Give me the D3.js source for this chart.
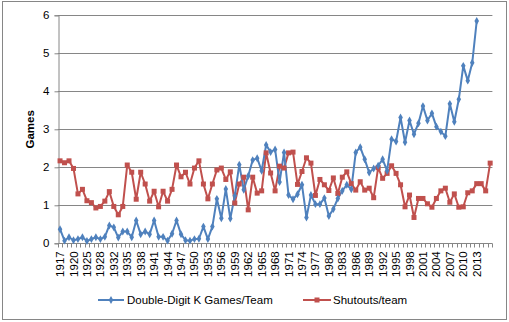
<!DOCTYPE html>
<html><head><meta charset="utf-8">
<script src="https://cdn.jsdelivr.net/npm/d3@7"></script>
<style>
body{margin:0;background:#fff;}
svg{display:block;font-family:"Liberation Sans",Arial,sans-serif;}
</style></head>
<body><svg id="c" width="509" height="322"></svg>
<script>
const years = [1917,1918,1919,1920,1922,1924,1925,1926,1927,1928,1930,1931].concat(d3.range(1932,2017));
const kGames = [0.37,0.07,0.16,0.08,0.11,0.16,0.06,0.11,0.16,0.11,0.17,0.47,0.42,0.15,0.31,0.31,0.16,0.60,0.24,0.31,
0.24,0.60,0.17,0.17,0.07,0.25,0.60,0.24,0.08,0.07,0.11,0.12,0.44,0.11,0.44,1.17,0.66,1.43,0.65,1.25,
2.07,1.41,1.77,2.19,2.24,1.91,2.59,2.40,2.47,1.61,2.39,1.27,1.16,1.29,1.54,0.68,1.27,1.03,1.03,1.19,
0.72,0.90,1.18,1.38,1.54,1.42,2.39,2.53,2.21,1.86,1.97,2.04,2.21,1.91,2.74,2.68,3.31,2.66,3.23,2.87,
3.16,3.61,3.23,3.42,3.07,2.94,2.82,3.67,3.20,3.79,4.67,4.28,4.75,5.85];
const shutouts = [2.17,2.12,2.17,1.97,1.30,1.42,1.12,1.07,0.93,0.97,1.11,1.36,0.97,0.75,0.97,2.06,1.87,1.16,1.87,1.56,
1.11,1.37,0.96,1.37,1.11,1.42,2.06,1.75,1.87,1.56,1.98,2.17,1.56,1.17,1.56,1.93,1.98,1.68,1.88,1.06,
1.56,1.74,0.88,1.74,1.32,1.38,2.38,1.85,1.38,2.03,1.98,2.38,2.40,1.55,1.89,2.25,2.11,1.26,1.68,1.54,
1.39,1.72,1.31,1.74,1.88,1.57,1.40,1.62,1.40,1.45,1.20,1.99,1.71,1.84,2.04,1.84,1.54,0.96,1.27,0.68,
1.18,1.18,1.04,0.95,1.18,1.38,1.45,1.08,1.30,0.95,0.96,1.33,1.38,1.57,1.57,1.38,2.11];
const yTicks = [0,1,2,3,4,5,6];
const xTickLabels = [1917,1920,1925,1928,1932,1935,1938,1941,1944,1947,1950,1953,1956,1959,1962,1965,1968,1971,1974,1977,1980,1983,1986,1989,1992,1995,1998,2001,2004,2007,2010,2013];
const seriesNames = ["Double-Digit K Games/Team","Shutouts/team"];

const svg = d3.select("#c");
const L = 57.8, R = 492.4, T = 15.3, B = 243.3;
const gridCol = "#868686";
const blue = "#4F81BD", red = "#C0504D";

// outer border
svg.append("rect").attr("x",2.5).attr("y",1.5).attr("width",504).attr("height",318)
  .attr("fill","#fff").attr("stroke",gridCol).attr("stroke-width",1);

const x = d3.scaleBand().domain(years).range([L,R]).padding(0);
const cx = d => x(d) + x.bandwidth()/2;
const y = d3.scaleLinear().domain([0,6]).range([B,T]);

// gridlines
svg.append("g").selectAll("line").data(yTicks.filter(d=>d>0)).join("line")
  .attr("x1",L).attr("x2",R).attr("y1",d=>Math.round(y(d))+0.5).attr("y2",d=>Math.round(y(d))+0.5)
  .attr("stroke",gridCol).attr("stroke-width",1);

// y axis
const ya = svg.append("g").attr("transform",`translate(${Math.round(L)+0.5},0)`)
  .call(d3.axisLeft(y).tickValues(yTicks).tickSize(4).tickPadding(5).tickFormat(d3.format("d")));
ya.select(".domain").attr("stroke",gridCol);
ya.selectAll(".tick line").attr("stroke",gridCol);
ya.selectAll(".tick text").attr("font-size","11.5px").attr("fill","#000")
  .attr("font-family","Liberation Sans, Arial, sans-serif");

// x axis line & ticks between categories
const xb = Math.round(B)+0.5;
svg.append("line").attr("x1",L).attr("x2",R).attr("y1",xb).attr("y2",xb).attr("stroke",gridCol);
const bounds = years.map(d=>x(d)).concat([R]);
svg.append("g").selectAll("line").data(bounds).join("line")
  .attr("x1",d=>Math.round(d)+0.5).attr("x2",d=>Math.round(d)+0.5)
  .attr("y1",xb).attr("y2",xb+4).attr("stroke",gridCol);

// x labels
const xa = svg.append("g").attr("transform",`translate(0,${B})`)
  .call(d3.axisBottom(x).tickValues(xTickLabels).tickSize(0).tickFormat(d=>d));
xa.select(".domain").remove();
xa.selectAll(".tick text").attr("font-size","11.5px").attr("fill","#000")
  .attr("font-family","Liberation Sans, Arial, sans-serif")
  .attr("transform","rotate(-90)").attr("text-anchor","end")
  .attr("x",-8).attr("y",0).attr("dy","0.35em");

// y title
svg.append("text").attr("transform",`translate(34,${(T+B)/2}) rotate(-90)`)
  .attr("text-anchor","middle").attr("font-weight","bold").attr("font-size","11.5px").text("Games");

// lines
const kData = kGames.map((v,i)=>({yr:years[i],v}));
const sData = shutouts.map((v,i)=>({yr:years[i],v}));
const line = d3.line().x(d=>cx(d.yr)).y(d=>y(d.v));
svg.append("path").datum(sData).attr("d",line).attr("fill","none").attr("stroke",red).attr("stroke-width",2).attr("stroke-linejoin","round");
svg.append("path").datum(kData).attr("d",line).attr("fill","none").attr("stroke",blue).attr("stroke-width",2).attr("stroke-linejoin","round");

const diamond = d3.symbol().type(d3.symbolDiamond).size(18);
svg.append("g").selectAll("rect").data(sData).join("rect")
  .attr("x",d=>cx(d.yr)-2.5).attr("y",d=>y(d.v)-2.5).attr("width",5).attr("height",5).attr("fill",red);
svg.append("g").selectAll("path").data(kData).join("path")
  .attr("d",diamond).attr("transform",d=>`translate(${cx(d.yr)},${y(d.v)})`).attr("fill",blue);

// legend
const lg = svg.append("g");
const ly = 300;
lg.append("line").attr("x1",98).attr("x2",124).attr("y1",ly).attr("y2",ly).attr("stroke",blue).attr("stroke-width",2);
lg.append("path").attr("d",diamond).attr("transform",`translate(111,${ly})`).attr("fill",blue);
lg.append("text").attr("x",127).attr("y",ly).attr("dy","0.35em").attr("font-size","11.5px").text(seriesNames[0]);
lg.append("line").attr("x1",303).attr("x2",331).attr("y1",ly).attr("y2",ly).attr("stroke",red).attr("stroke-width",2);
lg.append("rect").attr("x",314.5).attr("y",ly-2.5).attr("width",5).attr("height",5).attr("fill",red);
lg.append("text").attr("x",333).attr("y",ly).attr("dy","0.35em").attr("font-size","11.5px").text(seriesNames[1]);
</script></body></html>
